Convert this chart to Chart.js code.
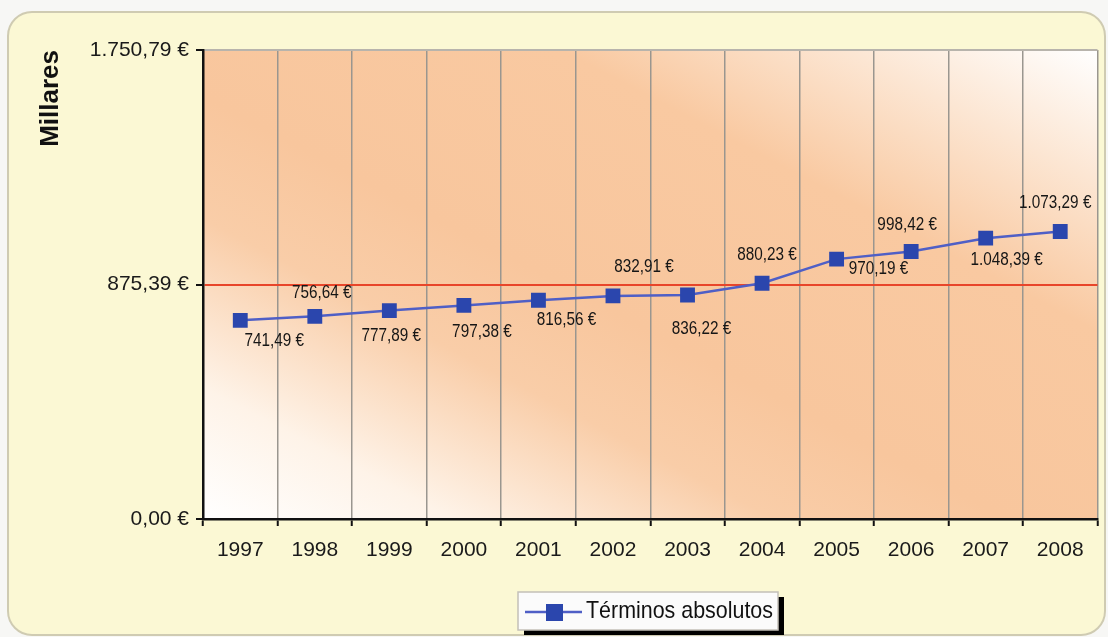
<!DOCTYPE html>
<html lang="es">
<head>
    <meta charset="UTF-8">
    <title>Términos absolutos</title>
    <script src="https://cdn.jsdelivr.net/npm/chart.js"></script>
    <style>
        html, body { margin: 0; padding: 0; background: #f7f7f5; }
        #chart { display: block; }
    </style>
</head>
<body>
    <canvas id="chart" width="1108" height="637"></canvas>

    <script>
        // data
        const years = ["1997", "1998", "1999", "2000", "2001", "2002", "2003", "2004", "2005", "2006", "2007", "2008"];
        const absolutos = [741.49, 756.64, 777.89, 797.38, 816.56, 832.91, 836.22, 880.23, 970.19, 998.42, 1048.39, 1073.29];
        const yTicks = [0, 875.39, 1750.79];
        const seriesName = "Términos absolutos";
        const axisTitle = "Millares";

        // where each value label sits relative to its point (px)
        const labelOffsets = [
            [34, 21], [7, -23], [2, 25], [18, 27], [28, 20], [31, -29],
            [14, 34], [5, -28], [42, 10], [-4, -27], [21, 22], [-5, -28]
        ];

        const lineColor = "#4f5fc6";
        const markColor = "#2b46ad";
        const sans = "'Liberation Sans', Arial, sans-serif";

        function euro(v) {
            const parts = v.toFixed(2).split(".");
            const int = parts[0].replace(/\B(?=(\d{3})+(?!\d))/g, ".");
            return int + "," + parts[1] + " €";
        }

        // condensed text, the original uses a narrow face
        function squeezeText(ctx, text, x, y, sx) {
            ctx.save();
            ctx.translate(x, y);
            ctx.scale(sx, 1);
            ctx.fillText(text, 0, 0);
            ctx.restore();
        }

        const backdrop = {
            id: "backdrop",
            beforeDraw(chart) {
                const ctx = chart.ctx;
                const a = chart.chartArea;
                ctx.save();
                // outer panel
                ctx.fillStyle = "#fbf8d4";
                ctx.strokeStyle = "#cfcbb2";
                ctx.lineWidth = 2;
                ctx.beginPath();
                ctx.roundRect(8, 12, 1097, 623, 24);
                ctx.fill();
                ctx.stroke();
                // plot background, bands run along the top-left -> bottom-right diagonal
                const w = a.right - a.left, h = a.bottom - a.top;
                const cx = a.left + w / 2, cy = a.top + h / 2;
                const len = Math.hypot(w, h);
                const nx = h / len, ny = -w / len;
                const half = (w * h) / len;
                const g = ctx.createLinearGradient(cx - nx * half, cy - ny * half, cx + nx * half, cy + ny * half);
                g.addColorStop(0, "#ffffff");
                g.addColorStop(0.14, "#fef3e8");
                g.addColorStop(0.32, "#f9cda8");
                g.addColorStop(0.45, "#f8c69d");
                g.addColorStop(0.7, "#f9c9a1");
                g.addColorStop(0.86, "#fce6d3");
                g.addColorStop(1, "#ffffff");
                ctx.fillStyle = g;
                ctx.fillRect(a.left, a.top, w, h);
                ctx.restore();
            }
        };

        const valueLabels = {
            id: "valueLabels",
            afterDatasetsDraw(chart) {
                const ctx = chart.ctx;
                const meta = chart.getDatasetMeta(0);
                ctx.save();
                ctx.font = "18px " + sans;
                ctx.fillStyle = "#161616";
                ctx.textAlign = "center";
                ctx.textBaseline = "middle";
                meta.data.forEach((pt, i) => {
                    const off = labelOffsets[i];
                    squeezeText(ctx, euro(absolutos[i]), pt.x + off[0], pt.y + off[1], 0.85);
                });
                ctx.restore();
            }
        };

        const boxLegend = {
            id: "boxLegend",
            afterDraw(chart) {
                const ctx = chart.ctx;
                const x = 518, y = 592, w = 260, h = 38;
                ctx.save();
                ctx.fillStyle = "#000";
                ctx.fillRect(x + 6, y + 5, w, h);
                ctx.fillStyle = "#fbfbfb";
                ctx.fillRect(x, y, w, h);
                ctx.strokeStyle = "#c4c0b8";
                ctx.lineWidth = 1.5;
                ctx.strokeRect(x, y, w, h);
                const cy = y + h / 2 + 1;
                ctx.strokeStyle = lineColor;
                ctx.lineWidth = 2.5;
                ctx.beginPath();
                ctx.moveTo(x + 7, cy);
                ctx.lineTo(x + 64, cy);
                ctx.stroke();
                ctx.fillStyle = markColor;
                ctx.fillRect(x + 28, cy - 8, 17, 17);
                ctx.fillStyle = "#111";
                ctx.font = "24px " + sans;
                ctx.textBaseline = "middle";
                const tw = ctx.measureText(seriesName).width;
                ctx.textAlign = "left";
                squeezeText(ctx, seriesName, x + 68, cy - 1, 187 / tw);
                ctx.restore();
            }
        };

        new Chart(document.getElementById("chart"), {
            type: "line",
            data: {
                labels: years,
                datasets: [{
                    label: seriesName,
                    data: absolutos,
                    borderColor: lineColor,
                    borderWidth: 2.5,
                    pointStyle: "rect",
                    pointRadius: 10.5,
                    pointHoverRadius: 10.5,
                    pointBackgroundColor: markColor,
                    pointBorderColor: markColor,
                    pointBorderWidth: 0,
                    tension: 0
                }]
            },
            options: {
                responsive: false,
                animation: false,
                layout: { padding: { left: 0, top: 50, right: 10, bottom: 0 } },
                plugins: {
                    legend: { display: false },
                    tooltip: { enabled: false }
                },
                scales: {
                    x: {
                        offset: true,
                        grid: {
                            offset: true,
                            color: "#9a968f",
                            lineWidth: 1.5,
                            tickLength: 7,
                            tickColor: "#111",
                            tickWidth: 2
                        },
                        border: { color: "#111", width: 2.5 },
                        ticks: {
                            color: "#1a1a1a",
                            padding: 12,
                            maxRotation: 0,
                            font: { family: sans, size: 21 }
                        },
                        afterFit(scale) { scale.height = 118; }
                    },
                    y: {
                        min: 0,
                        max: 1750.79,
                        afterBuildTicks(scale) {
                            scale.ticks = yTicks.map(v => ({ value: v }));
                        },
                        grid: {
                            color: ctx => {
                                if (ctx.tick && ctx.tick.value === yTicks[1]) return "#e8452a";
                                if (ctx.tick && ctx.tick.value === yTicks[2]) return "#b8b4ac";
                                return "rgba(0,0,0,0)";
                            },
                            lineWidth: 2,
                            tickLength: 7,
                            tickColor: "#111",
                            tickWidth: 2
                        },
                        border: { color: "#111", width: 2.5 },
                        ticks: {
                            color: "#1a1a1a",
                            padding: 7,
                            font: { family: sans, size: 21 },
                            callback: v => euro(v)
                        },
                        title: {
                            display: true,
                            text: axisTitle,
                            align: "end",
                            color: "#111",
                            padding: { top: 35, bottom: 0 },
                            font: { family: sans, size: 26, weight: "bold" }
                        },
                        afterFit(scale) { scale.width = 203; }
                    }
                }
            },
            plugins: [backdrop, valueLabels, boxLegend]
        });
    </script>
</body>
</html>
